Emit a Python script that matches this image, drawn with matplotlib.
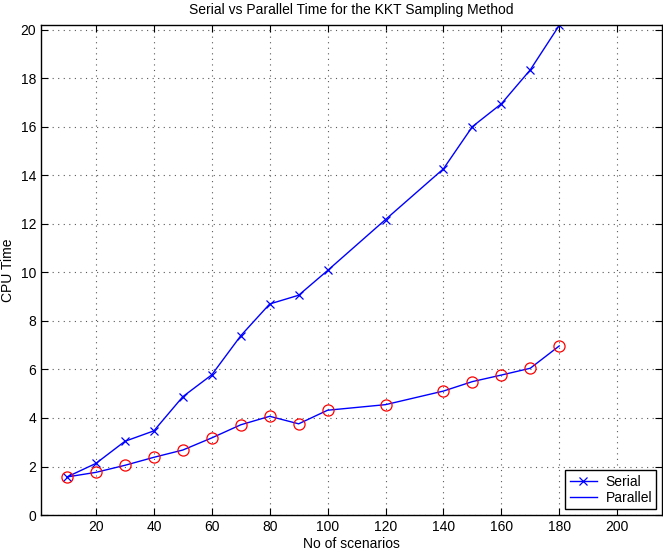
import numpy as np
import matplotlib.pyplot as plt

plt.rcParams['font.family'] = ['Liberation Sans', 'DejaVu Sans']

scenarios = [10, 20, 30, 40, 50, 60, 70, 80, 90, 100, 120, 140, 150, 160, 170, 180]
serial = [1.57, 2.13, 3.04, 3.47, 4.88, 5.78, 7.39, 8.70, 9.06, 10.08, 12.18, 14.27, 16.01, 16.95, 18.35, 20.18]
parallel = [1.57, 1.76, 2.05, 2.38, 2.68, 3.18, 3.72, 4.07, 3.76, 4.32, 4.55, 5.11, 5.50, 5.77, 6.05, 6.97]

fig = plt.figure(figsize=(6.63, 5.55), dpi=100)
ax = fig.add_axes([0.0618, 0.072, 0.9367, 0.883])

ax.plot(scenarios, serial, 'bx-', lw=1.0, ms=5.5, mew=0.9, label='Serial')
ax.plot(scenarios, parallel, 'b-', lw=1.0, label='Parallel')
ax.plot(scenarios, parallel, 'o', mfc='none', mec='red', ms=8, mew=0.9)

ax.set_xlim(1, 215.5)
ax.set_ylim(0, 20.2)
ax.set_xticks(np.arange(20, 201, 20))
ax.set_yticks(np.arange(0, 21, 2))
ax.grid(True, ls=(0, (1, 4)), color='0.35', lw=0.8)
ax.tick_params(direction='in', top=True, right=True, length=5, labelsize=10)
for s in ax.spines.values():
    s.set_linewidth(1)

ax.set_title('Serial vs Parallel Time for the KKT Sampling Method', fontsize=10, pad=8)
ax.set_xlabel('No of scenarios', fontsize=10, labelpad=2)
ax.set_ylabel('CPU Time', fontsize=10, labelpad=4)

leg = ax.legend(loc='lower right', fancybox=False, framealpha=1, edgecolor='black',
                fontsize=10, borderaxespad=0.4, handlelength=2.0, borderpad=0.3,
                labelspacing=0.2, handletextpad=0.6)
leg.get_frame().set_linewidth(1)

fig.savefig('out.png', dpi=100)
